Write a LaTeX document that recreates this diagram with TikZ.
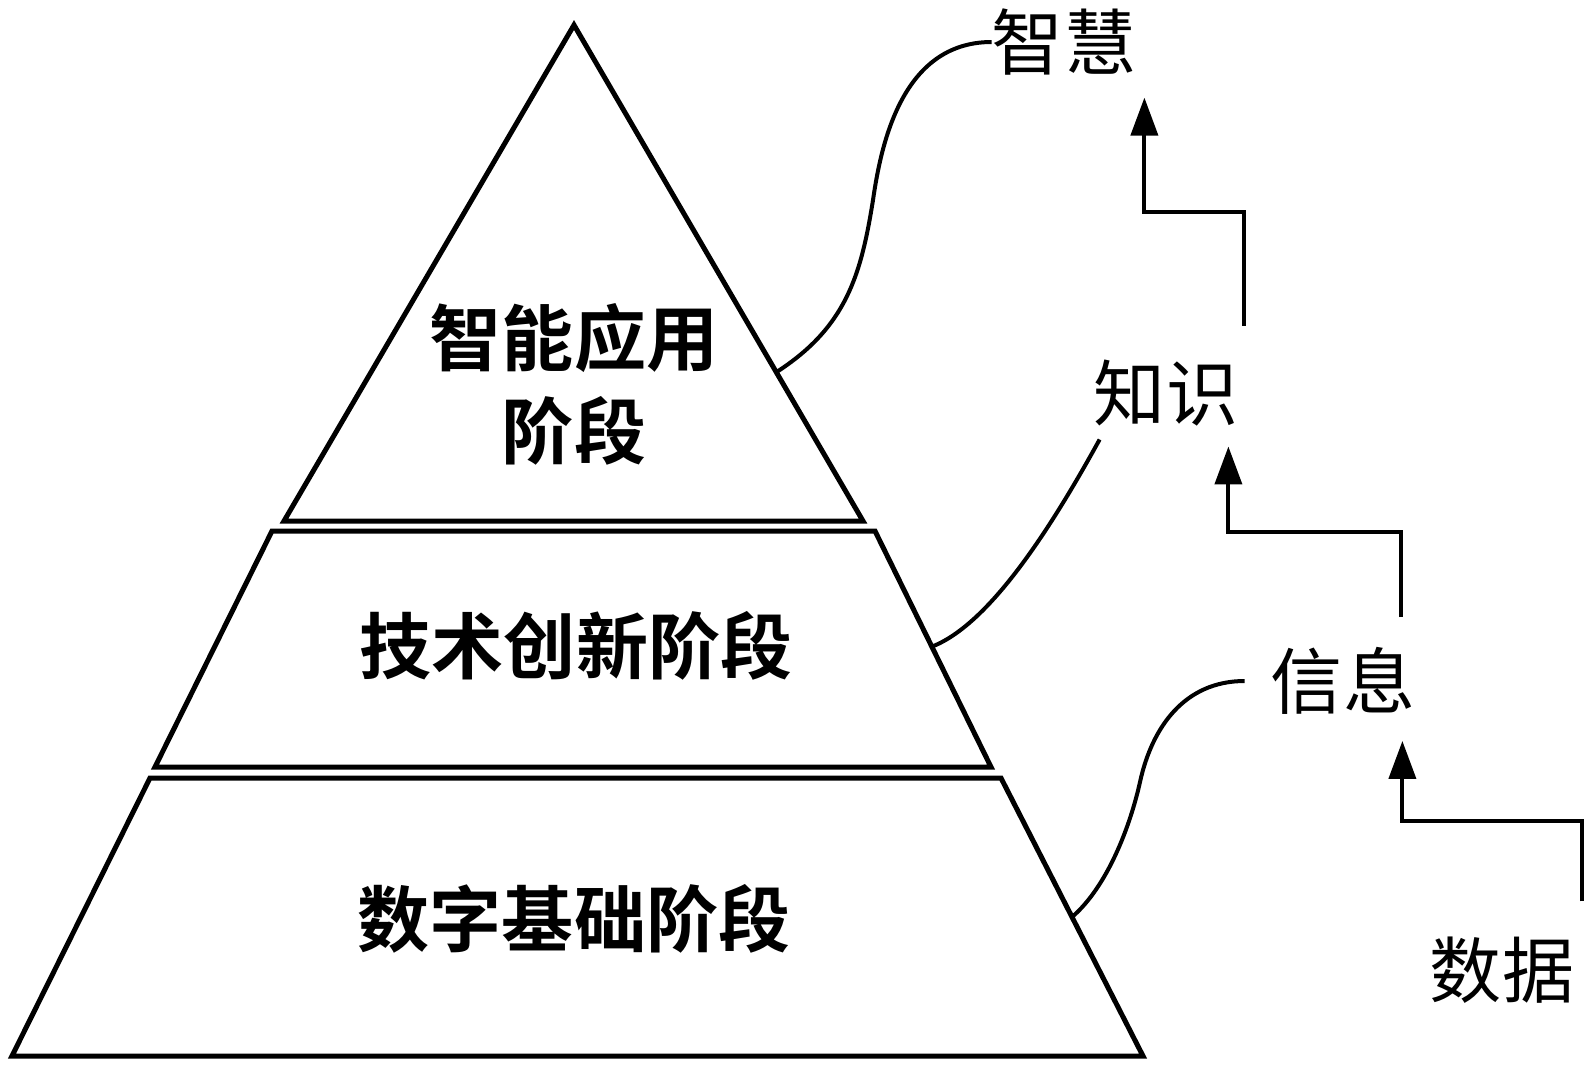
\documentclass[tikz,border=0pt]{standalone}
\usepackage{fontspec}
\newfontfamily\cjk{Noto Sans CJK SC}
\newfontfamily\cjkbold{Noto Sans CJK SC Bold}
\usetikzlibrary{arrows.meta,calc}

\begin{document}
\begin{tikzpicture}[x=0.02cm,y=-0.02cm,
  layer/.style={line width=0.1cm},
  stage/.style={font=\cjkbold\fontsize{41pt}{53pt}\selectfont,align=center,inner sep=0pt},
  level/.style={font=\cjk\fontsize{41pt}{49pt}\selectfont,inner sep=0pt},
  link/.style={line width=0.08cm},
  flow/.style={line width=0.08cm,-{Triangle[width=0.54cm,length=0.76cm]}}]
  \useasboundingbox (0,0) rectangle (1589,1066);
  % pyramid
  \coordinate (tA) at (574,25);
  \coordinate (tL) at (284,521); \coordinate (tR) at (863,521);
  \draw[layer] (tA) -- (tR) -- (tL) -- cycle;
  \coordinate (mTL) at (272,531); \coordinate (mTR) at (875,531);
  \coordinate (mBL) at (155,767); \coordinate (mBR) at (991,767);
  \draw[layer] (mTL) -- (mTR) -- (mBR) -- (mBL) -- cycle;
  \coordinate (bTL) at (150,778); \coordinate (bTR) at (1001,778);
  \coordinate (bBL) at (12,1056); \coordinate (bBR) at (1143,1056);
  \draw[layer] (bTL) -- (bTR) -- (bBR) -- (bBL) -- cycle;
  \node[stage] (top) at (574,384) {智能应用\\阶段};
  \node[stage] (mid) at (576,646) {技术创新阶段};
  \node[stage] (base) at (574,919) {数字基础阶段};
  % levels
  \node[level] (zh) at (1064,42) {智慧};
  \node[level] (zs) at (1166,393) {知识};
  \node[level] (xx) at (1343,681) {信息};
  \node[level] (sj) at (1502,970) {数据};
  \coordinate (c1) at ($(tA)!0.7!(tR)$);
  \coordinate (c2) at ($(mTR)!0.49!(mBR)$);
  \coordinate (c3) at ($(bTR)!0.5!(bBR)$);
  \coordinate (m1) at (873,200);
  \coordinate (m3) at (1140,782);
  \draw[link] (c1) .. controls +(70,-45) and +(-12,75) .. (m1)
    .. controls +(8,-55) and +(-90,0) .. (zh.west);
  \draw[link] (c2) .. controls +(57,-22) and +(-50,91) .. ([shift={(6,13)}]zs.south west);
  \draw[link] (c3) .. controls +(35,-30) and +(-10,45) .. (m3)
    .. controls +(12,-55) and +(-60,0) .. ([xshift=-0.52cm]xx.west);
  \coordinate (s1) at ([shift={(6,-34)}]zs.north east);
  \coordinate (t1) at ([shift={(8,22)}]zh.south east);
  \coordinate (s2) at ([shift={(-14,-30)}]xx.north east);
  \coordinate (t2) at ([shift={(-10,20)}]zs.south east);
  \coordinate (s3) at ([shift={(8,-35)}]sj.north east);
  \coordinate (t3) at ([shift={(-13,26)}]xx.south east);
  \draw[flow] (s1) |- ($(s1)!0.5!(t1)$) -| (t1);
  \draw[flow] (s2) |- ($(s2)!0.5!(t2)$) -| (t2);
  \draw[flow] (s3) |- ($(s3)!0.5!(t3)$) -| (t3);
\end{tikzpicture}
\end{document}
